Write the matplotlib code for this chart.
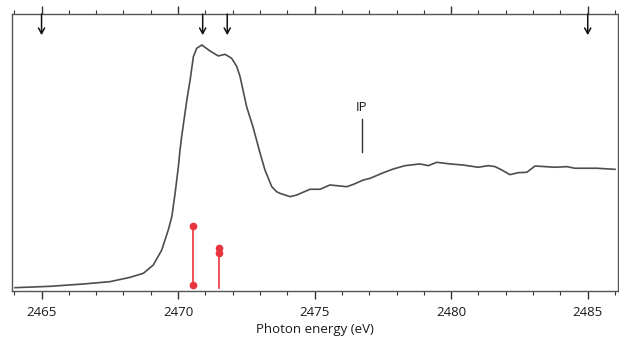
import matplotlib
matplotlib.use("Agg")
import matplotlib.pyplot as plt
from matplotlib.ticker import MultipleLocator

plt.rcParams['font.family'] = ['Open Sans', 'DejaVu Sans']

# S K-edge spectrum, normalised (post-edge ~ 1)
energy = [2464.03, 2465.31, 2466.53, 2467.51, 2468.24, 2468.73, 2469.09, 2469.40,
          2469.64, 2469.77, 2469.89, 2470.01, 2470.07, 2470.13, 2470.32, 2470.44,
          2470.56, 2470.68,
          2470.87, 2471.17, 2471.47, 2471.72, 2471.96, 2472.15, 2472.27, 2472.51,
          2472.74, 2473.00, 2473.18, 2473.43, 2473.61, 2473.73, 2474.10, 2474.34,
          2474.83, 2475.20, 2475.56, 2476.18, 2476.42, 2476.78, 2477.03, 2477.52,
          2477.88, 2478.31, 2478.86, 2479.16, 2479.47, 2479.96, 2480.44, 2480.99,
          2481.36, 2481.61, 2481.85, 2482.15, 2482.46, 2482.77, 2483.07, 2483.44,
          2483.80, 2484.23, 2484.53, 2485.33, 2486.00]
absorb = [0.027, 0.038, 0.057, 0.076, 0.111, 0.144, 0.211, 0.333,
          0.496, 0.604, 0.794, 1.011, 1.146, 1.254, 1.553, 1.715,
          1.905, 1.973,
          2.000, 1.951, 1.911, 1.924, 1.892, 1.824, 1.742, 1.498,
          1.336, 1.122, 0.984, 0.848, 0.807, 0.794, 0.767, 0.780,
          0.827, 0.827, 0.862, 0.848, 0.867, 0.902, 0.916, 0.962,
          0.992, 1.019, 1.033, 1.019, 1.046, 1.033, 1.024, 1.006,
          1.019, 1.011, 0.984, 0.946, 0.962, 0.965, 1.016, 1.011,
          1.006, 1.011, 0.998, 0.998, 0.989]

# calculated transitions (red sticks)
stick_e = [2470.55, 2471.5]
stick_bottom = [0.049, 0.024]
stick_top = [0.531, 0.347]
stick_dots = [[0.531, 0.049], [0.347, 0.311]]

arrow_e = [2465.0, 2470.9, 2471.8, 2485.0]
ip_e = 2476.72

fig = plt.figure(figsize=(6.19, 3.37), dpi=100)
ax = fig.add_axes([0.0186, 0.1365, 0.9803, 0.822])

ax.plot(energy, absorb, color='#4d4d4d', lw=1.2)

red = '#e8343c'
for e, b, t, dots in zip(stick_e, stick_bottom, stick_top, stick_dots):
    ax.plot([e, e], [b, t], color=red, lw=1.2)
    ax.plot([e] * len(dots), dots, 'o', color=red, ms=4.5, mec=red)

ymax = 2.252
for e in arrow_e:
    ax.annotate('', xy=(e, 2.08), xytext=(e, ymax),
                arrowprops=dict(arrowstyle='->,head_width=0.22,head_length=0.4',
                                color='#111111', lw=1.1, shrinkA=0, shrinkB=0))

ax.plot([ip_e, ip_e], [1.128, 1.396], color='#333333', lw=1)
ax.text(ip_e, 1.44, 'IP', ha='center', va='bottom', fontsize=9.5, color='#1a1a1a')

ax.set_xlim(2463.9, 2486.12)
ax.set_ylim(0, ymax)
ax.set_yticks([])
ax.xaxis.set_major_locator(MultipleLocator(5))
ax.xaxis.set_minor_locator(MultipleLocator(1))
ax.tick_params(axis='x', which='both', direction='out', top=True, bottom=True,
               colors='#333333', labelsize=9.5, pad=5)
ax.tick_params(axis='x', which='major', length=6, width=1)
ax.tick_params(axis='x', which='minor', length=3, width=0.8)
for lab in ax.get_xticklabels():
    lab.set_color('#1a1a1a')
for sp in ax.spines.values():
    sp.set_color('#555555')
    sp.set_linewidth(1)

ax.set_xlabel('Photon energy (eV)', fontsize=9.5, color='#1a1a1a', labelpad=3)

fig.savefig('out.png', dpi=100)
